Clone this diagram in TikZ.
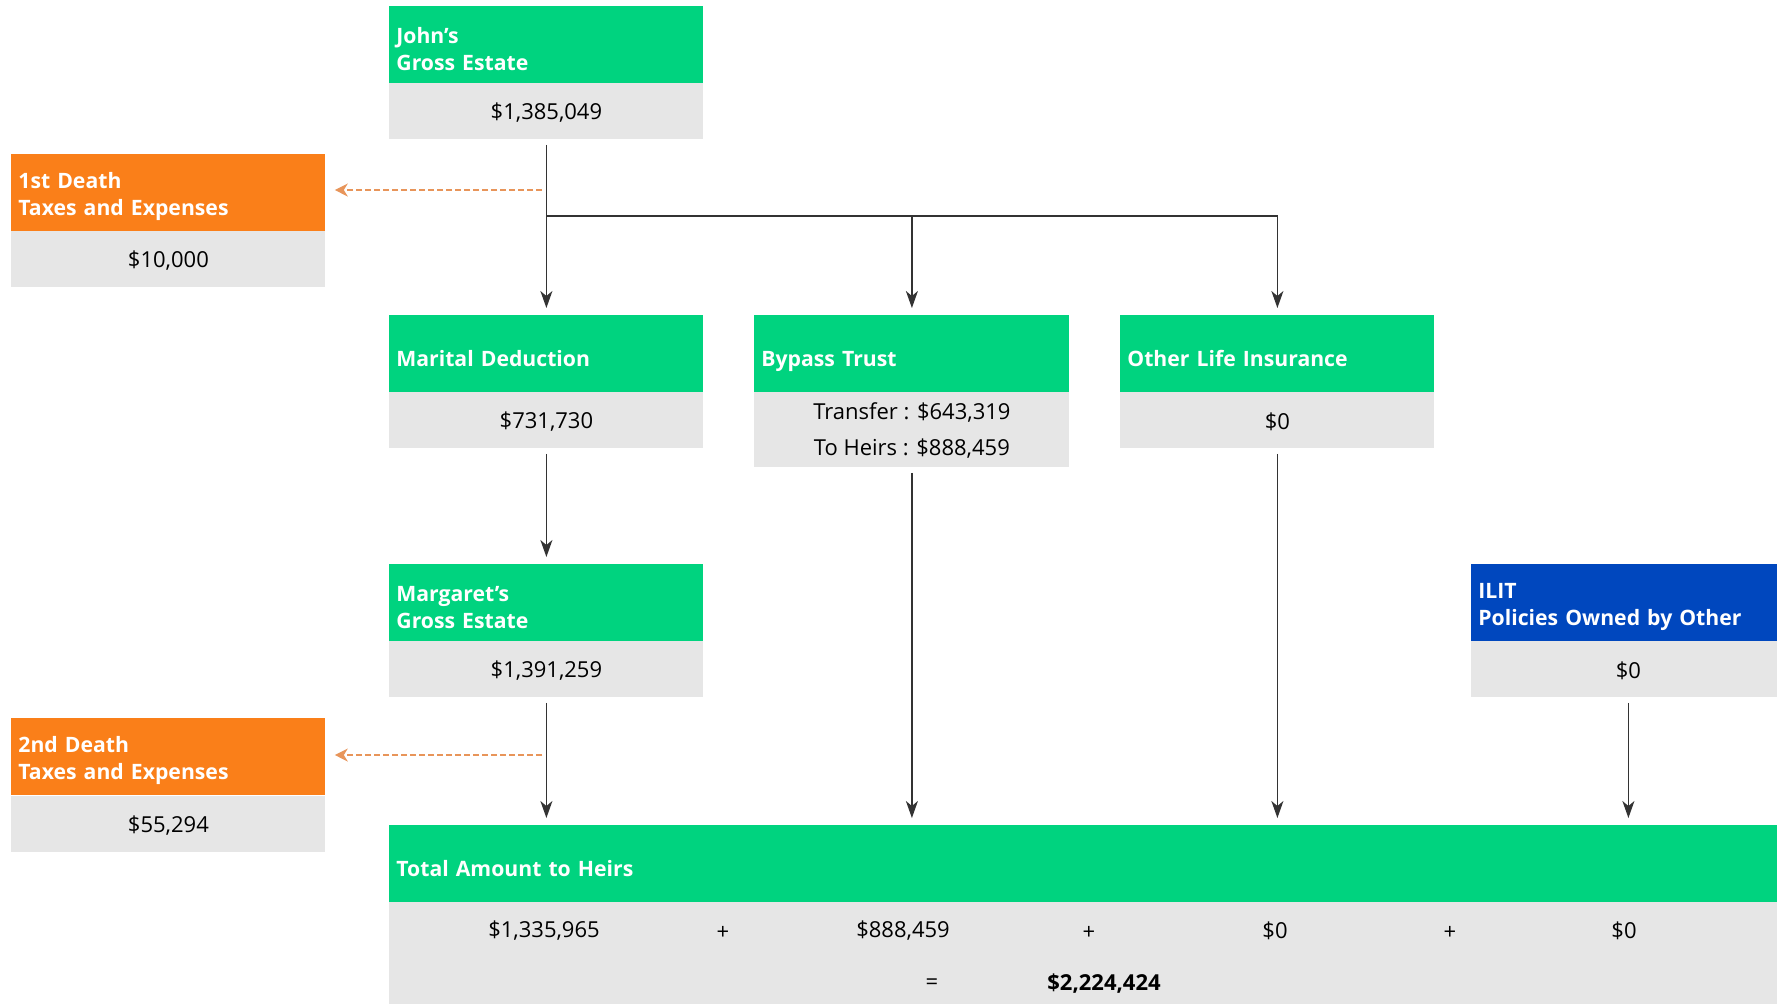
\documentclass[tikz,border=0pt]{standalone}
\usepackage{fontspec}
\setmainfont{Open Sans}
\usetikzlibrary{arrows.meta,calc}
\definecolor{hgreen}{HTML}{00D37F}
\definecolor{horange}{HTML}{FA7F19}
\definecolor{hblue}{HTML}{0047BE}
\definecolor{boxgray}{HTML}{E6E6E6}
\definecolor{linegray}{HTML}{333333}
\definecolor{dashorange}{HTML}{E8955A}
\newcommand\hdrstrut{\rule{0pt}{12pt}}
\newcommand\bdystrut{\rule{0pt}{9.5pt}}
\newcommand\apos{\char"0027\relax}
\begin{document}
\begin{tikzpicture}[x=0.5pt,y=-0.5pt,
  hdr/.style={anchor=north west, inner xsep=3.5pt, inner ysep=0pt, minimum height=38.5pt,
    align=left, text=white, font=\bfseries\fontsize{10.6}{13.5}\selectfont},
  bdy/.style={anchor=north west, inner sep=0pt, fill=boxgray, align=center,
    font=\fontsize{11}{18}\selectfont},
  tot/.style={inner sep=0pt, font=\fontsize{11}{12}\selectfont},
  arr/.style={draw=linegray, line width=0.75pt, shorten <=2.5pt, shorten >=3.5pt,
    -{Stealth[length=8.5pt,width=6pt,inset=2.5pt]}},
  dsh/.style={draw=dashorange, line width=0.75pt, dash pattern=on 3pt off 1.5pt,
    shorten >=4.5pt, -{Stealth[length=6.5pt,width=6.5pt,inset=2pt]}}]
\clip (0,0) rectangle (1777,1003);
\fill[white] (0,0) rectangle (1777,1003);

% John
\node[hdr, fill=hgreen, text width=150pt] (johnh) at (389,6) {\hdrstrut John\apos s\\Gross Estate};
\node[bdy, minimum width=157pt, minimum height=28pt] (johnb) at (389,83) {\bdystrut\$1,385,049};
% 1st death
\node[hdr, fill=horange, text width=150pt] (d1h) at (11,154) {\hdrstrut 1st Death\\Taxes and Expenses};
\node[bdy, minimum width=157pt, minimum height=28pt] (d1b) at (11,231) {\bdystrut\$10,000};
% Marital
\node[hdr, fill=hgreen, text width=150pt] (marh) at (389,315) {\rule{0pt}{12.5pt}Marital Deduction};
\node[bdy, minimum width=157pt, minimum height=28pt] (marb) at (389,392) {\bdystrut\$731,730};
% Bypass
\node[hdr, fill=hgreen, text width=150.5pt] (byph) at (754,315) {\rule{0pt}{15pt}Bypass Trust};
\node[bdy, minimum width=157.5pt, minimum height=37.5pt] (bypb) at (754,392) {\bdystrut Transfer : \$643,319\\To Heirs : \$888,459};
% Other life insurance
\node[hdr, fill=hgreen, text width=150pt] (othh) at (1120,315) {\rule{0pt}{12.5pt}Other Life Insurance};
\node[bdy, minimum width=157pt, minimum height=28pt] (othb) at (1120,392) {\bdystrut\$0};
% Margaret
\node[hdr, fill=hgreen, text width=150pt] (margh) at (389,564) {\hdrstrut Margaret\apos s\\Gross Estate};
\node[bdy, minimum width=157pt, minimum height=28pt] (margb) at (389,641) {\bdystrut\$1,391,259};
% ILIT
\node[hdr, fill=hblue, text width=150pt] (ilith) at (1471,564) {\hdrstrut ILIT\\Policies Owned by Other};
\node[bdy, minimum width=157pt, minimum height=28pt] (ilitb) at (1471,641) {\bdystrut\$0};
% 2nd death
\node[hdr, fill=horange, text width=150pt] (d2h) at (11,718) {\hdrstrut 2nd Death\\Taxes and Expenses};
\node[bdy, minimum width=157pt, minimum height=28pt] (d2b) at (11,796) {\bdystrut\$55,294};
% Total
\node[hdr, fill=hgreen, text width=700pt] (toth) at (389,825) {\rule{0pt}{12.5pt}Total Amount to Heirs};
\node[bdy, minimum width=707pt, minimum height=60pt] (totb) at (389,902) {};
\node[tot] (t1) at (544,931) {\$1,335,965};
\node[tot] (p1) at (723,933) {+};
\node[tot] (t2) at (903,931) {\$888,459};
\node[tot] (p2) at (1089,933) {+};
\node[tot] (t3) at (1275,931) {\$0};
\node[tot] (p3) at (1450,933) {+};
\node[tot] (t4) at (1624,931) {\$0};
\node[tot] (eq) at (932,984) {=};
\node[tot, font=\bfseries\fontsize{11}{12}\selectfont] (sum) at (1104,984) {\$2,224,424};

% connectors
\coordinate (br) at (546,216);
\coordinate (c1) at (542,190);
\coordinate (c2) at (542,755);
\draw[dsh] (c1) -- (c1 -| d1h.east);
\draw[dsh] (c2) -- (c2 -| d2h.east);
\draw[arr] (johnb.south) -- (marh.north);
\draw[arr, shorten <=0pt] (br) -| (othh.north);
\draw[arr, shorten <=0pt] (br -| byph.north) -- (byph.north);
\draw[arr] (marb.south) -- (margh.north);
\draw[arr] (margb.south) -- (margb.south |- toth.north);
\draw[arr] (bypb.south) -- (bypb.south |- toth.north);
\draw[arr] (othb.south) -- (othb.south |- toth.north);
\draw[arr] (ilitb.south) -- (ilitb.south |- toth.north);
\end{tikzpicture}
\end{document}
